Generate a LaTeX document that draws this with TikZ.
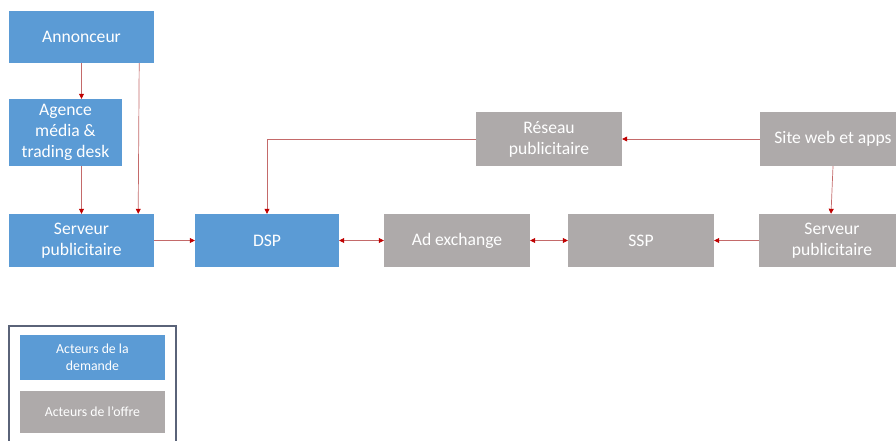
\documentclass[tikz,border=0pt]{standalone}
\usepackage{fontspec}
\setmainfont{Carlito}
\usetikzlibrary{arrows.meta}
\definecolor{dblue}{HTML}{5B9BD5}
\definecolor{sgray}{HTML}{AEAAAA}
\definecolor{lnk}{HTML}{C00000}
\definecolor{lnkline}{HTML}{C46A6A}
\definecolor{lgframe}{HTML}{5A6378}
\begin{document}
\begin{tikzpicture}[x=1pt,y=-1pt,
  box/.style={rectangle, inner sep=2pt, text=white, align=center,
    font=\fontsize{17.6}{21}\selectfont},
  dem/.style={box, fill=dblue},
  off/.style={box, fill=sgray},
  lgbox/.style={rectangle, inner sep=2pt, text=white, align=center,
    font=\fontsize{13.8}{17}\selectfont, minimum width=145pt},
  link/.style={draw=lnkline, line width=0.7pt},
  tip/.style={-{Triangle[length=5pt,width=5pt,color=lnk]}},
  tips/.style={{Triangle[length=5pt,width=5pt,color=lnk]}-{Triangle[length=5pt,width=5pt,color=lnk]}}
]
\clip (0,0) rectangle (896,441);
\fill[white] (0,0) rectangle (896,441);

% demand side
\node[dem, minimum width=145pt, minimum height=52pt] (ann) at (81.5,37) {Annonceur};
\node[dem, minimum width=113pt, minimum height=67pt] (agc) at (65.5,132.5) {Agence\\média \&\\trading desk};
\node[dem, minimum width=145pt, minimum height=53pt] (srvL) at (81.5,240.5) {Serveur\\publicitaire};
\node[dem, minimum width=144pt, minimum height=53pt] (dsp) at (267,240.5) {DSP};

% supply side
\node[off, minimum width=146pt, minimum height=53pt] (adx) at (457,240.5) {Ad exchange};
\node[off, minimum width=146pt, minimum height=53pt] (ssp) at (641,240.5) {SSP};
\node[off, minimum width=146pt, minimum height=53pt] (srvR) at (832,240.5) {Serveur\\publicitaire};
\node[off, minimum width=146pt, minimum height=54pt] (res) at (549,139) {Réseau\\publicitaire};
\node[off, minimum width=146pt, minimum height=54pt] (site) at (833,139) {Site web et apps};

% connectors
\draw[link, tip] (ann.south) -- (ann.south |- agc.north);
\draw[link, tip] (ann.south |- agc.south) -- (srvL.north);
\draw[link, tip] ([xshift=-15pt]ann.south east) -- ([xshift=-16pt]srvL.north east);
\draw[link, tip] (srvL.east) -- (dsp.west);
\draw[link, tips] (dsp.east) -- (adx.west);
\draw[link, tips] (adx.east) -- (ssp.west);
\draw[link, tip] (srvR.west) -- (ssp.east);
\draw[link, tip] (site.west) -- (res.east);
\draw[link, tip] (site.south) -- ([xshift=-1pt]srvR.north);
\draw[link, tip] (res.west) -| (dsp.north);

% legend
\draw[draw=lgframe, line width=1.1pt] (9,326) rectangle (176,460);
\node[lgbox, fill=dblue, minimum height=45pt] (lgd) at (92.5,357.5) {Acteurs de la\\demande};
\node[lgbox, fill=sgray, minimum height=42pt] (lgo) at (92.5,412) {Acteurs de l’offre};
\end{tikzpicture}
\end{document}
